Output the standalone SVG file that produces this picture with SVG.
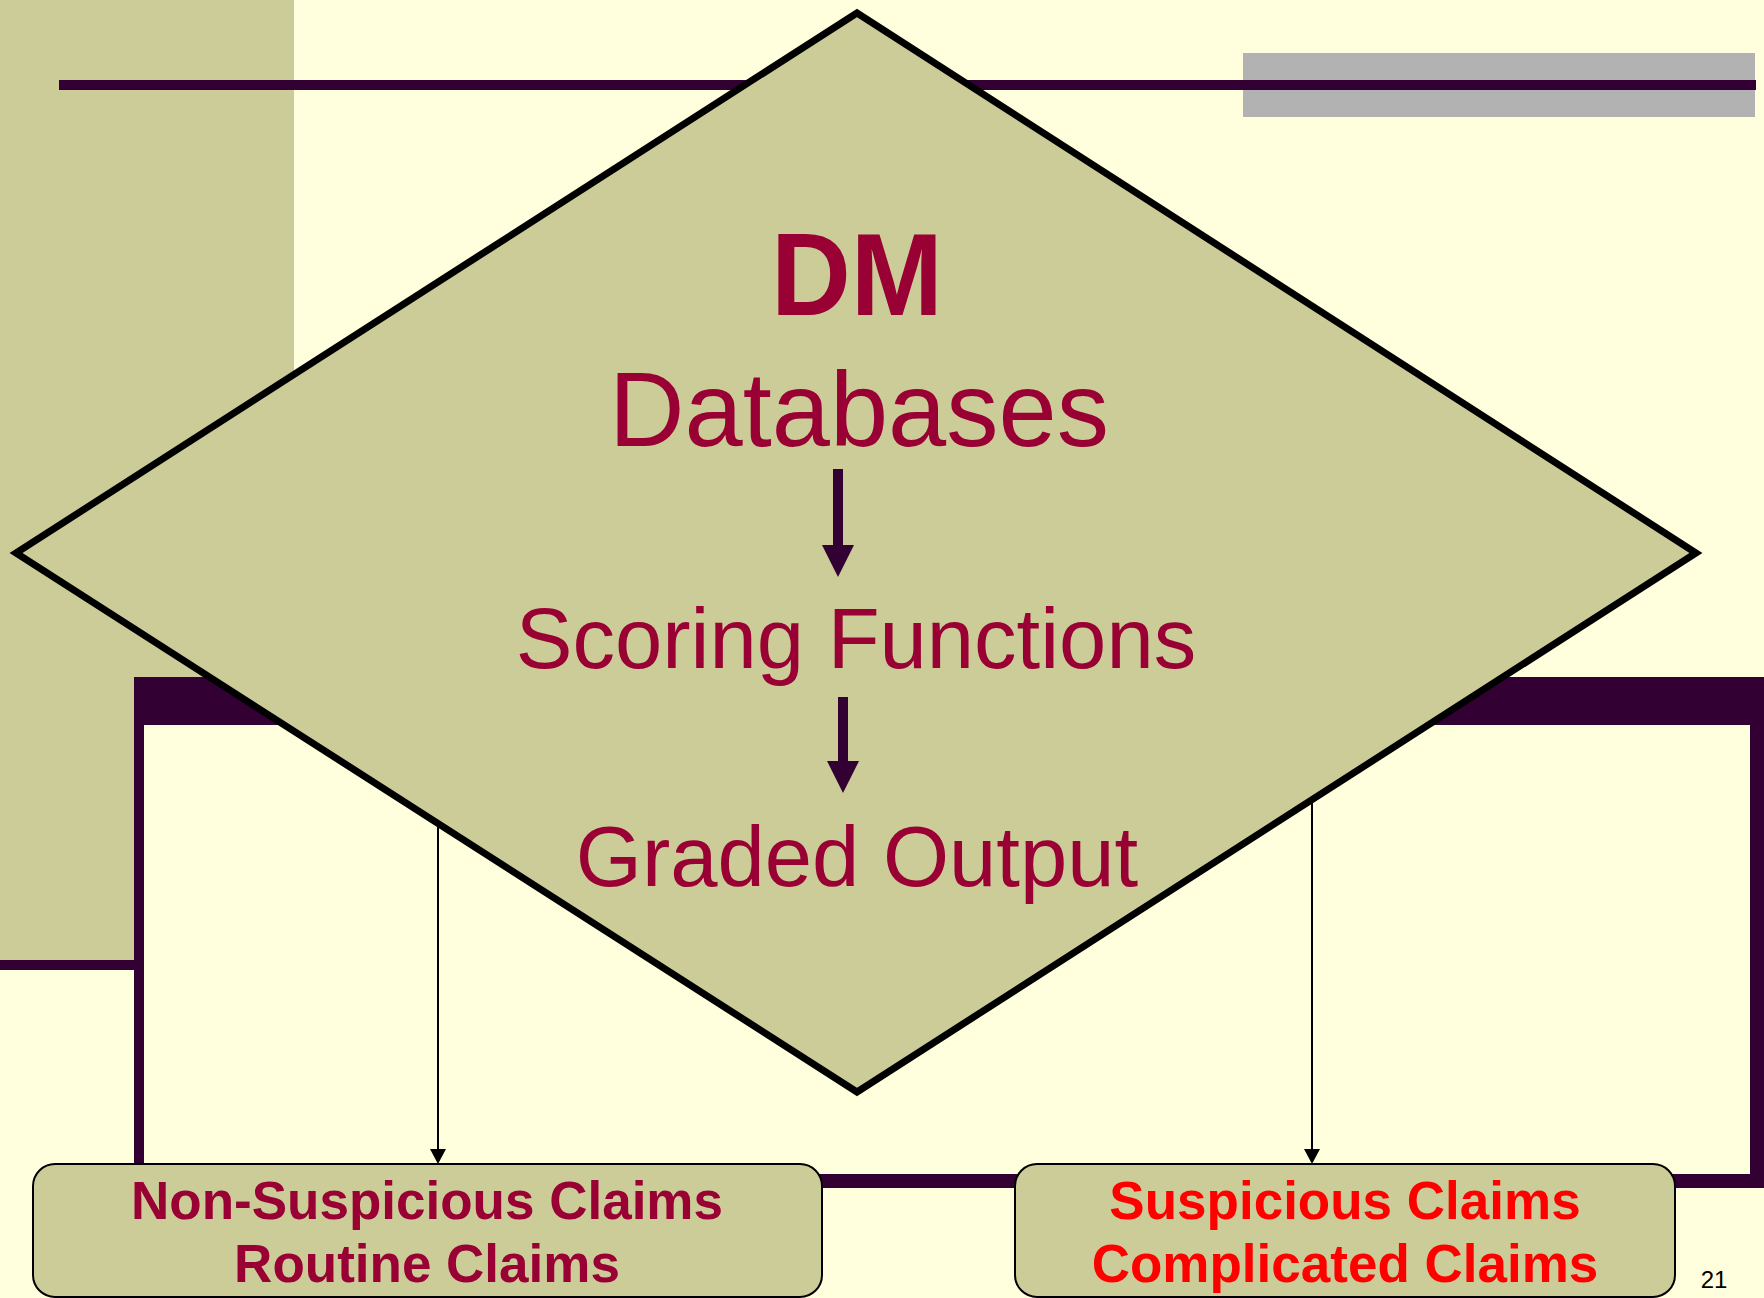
<svg xmlns="http://www.w3.org/2000/svg" width="1764" height="1298" viewBox="0 0 1764 1298">
<style>
.main{font-family:"Liberation Sans",Arial,sans-serif;fill:#990033;text-anchor:middle}
.box{fill:#CCCC99;stroke:#000;stroke-width:2}
.lbl{font-family:"Liberation Sans",Arial,sans-serif;font-weight:bold;font-size:53px;text-anchor:middle}
.thin{stroke:#000;stroke-width:2;fill:none}
.thick{stroke:#330033;stroke-width:10;fill:none}
</style>
<defs>
<marker id="ah" markerUnits="userSpaceOnUse" markerWidth="16" markerHeight="18" viewBox="0 -9 16 18" refX="0" refY="0" orient="auto" overflow="visible">
<path d="M0,-8 L15,0 L0,8 z" fill="#000"/>
</marker>
<marker id="bh" markerUnits="userSpaceOnUse" markerWidth="34" markerHeight="34" viewBox="0 -17 34 34" refX="0" refY="0" orient="auto" overflow="visible">
<path d="M0,-16 L32,0 L0,16 z" fill="#330033"/>
</marker>
</defs>
<g id="background">
<rect x="0" y="0" width="1764" height="1298" fill="#FFFFDD"/>
<rect x="0" y="0" width="294" height="960" fill="#CCCC99"/>
<rect x="0" y="960" width="134" height="10" fill="#330033"/>
<rect x="1243" y="53" width="512" height="64" fill="#B2B2B2"/>
<rect x="59" y="80" width="1697" height="10" fill="#330033"/>
<rect x="134" y="677" width="1630" height="511" fill="#330033"/>
<rect x="144" y="725" width="1606" height="449" fill="#FFFFDD"/>
</g>
<g id="connectors">
<line class="thin" x1="438" y1="760" x2="438" y2="1149" marker-end="url(#ah)"/>
<line class="thin" x1="1312" y1="760" x2="1312" y2="1149" marker-end="url(#ah)"/>
</g>
<g id="dm">
<polygon points="857,13 1696,553 857,1092 16,553" fill="#CCCC99" stroke="#000" stroke-width="7"/>
<text class="main" x="857" y="315" font-size="116" font-weight="bold" textLength="172" lengthAdjust="spacingAndGlyphs">DM</text>
<text class="main" x="859" y="446" font-size="106" textLength="500" lengthAdjust="spacingAndGlyphs">Databases</text>
<line class="thick" x1="838" y1="469" x2="838" y2="545" marker-end="url(#bh)"/>
<text class="main" x="856" y="668" font-size="85">Scoring Functions</text>
<line class="thick" x1="843" y1="697" x2="843" y2="761" marker-end="url(#bh)"/>
<text class="main" x="857" y="886" font-size="85">Graded Output</text>
</g>
<g id="nonsuspicious">
<rect class="box" x="33" y="1164" width="789" height="133" rx="22"/>
<text class="lbl" x="427" y="1219" fill="#990033">Non-Suspicious Claims</text>
<text class="lbl" x="427" y="1282" fill="#990033">Routine Claims</text>
</g>
<g id="suspicious">
<rect class="box" x="1015" y="1164" width="660" height="133" rx="22"/>
<text class="lbl" x="1345" y="1219" fill="#FF0000">Suspicious Claims</text>
<text class="lbl" x="1345" y="1282" fill="#FF0000">Complicated Claims</text>
</g>
<text x="1714" y="1288" font-family="Liberation Sans,Arial,sans-serif" font-size="24" text-anchor="middle" fill="#000">21</text>
</svg>
